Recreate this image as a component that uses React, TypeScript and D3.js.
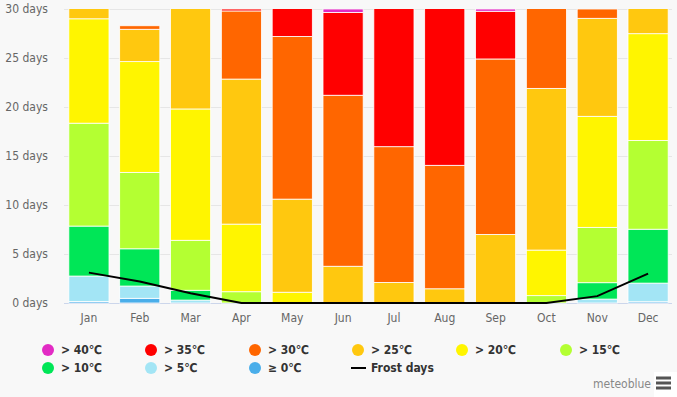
import React from 'react'
import * as d3 from 'd3'

// months and stacked "days per month" per max-temperature class
const months = ['Jan', 'Feb', 'Mar', 'Apr', 'May', 'Jun', 'Jul', 'Aug', 'Sep', 'Oct', 'Nov', 'Dec']
const ge0 = [0.15, 0.48, 0, 0, 0, 0, 0, 0, 0, 0, 0, 0.13]
const gt5 = [2.6, 1.25, 0.3, 0, 0, 0, 0, 0, 0, 0, 0.4, 1.9]
const gt10 = [5.1, 3.8, 1.0, 0, 0, 0, 0, 0, 0, 0, 1.67, 5.5]
const gt15 = [10.5, 7.8, 5.1, 1.15, 0, 0, 0, 0, 0, 0.75, 5.65, 9.05]
const gt20 = [10.65, 11.3, 13.4, 6.9, 1.1, 0, 0, 0, 0, 4.65, 11.33, 10.9]
const gt25 = [2.0, 3.3, 11.2, 14.8, 9.5, 3.75, 2.1, 1.45, 7.0, 16.5, 10.0, 3.6]
const gt30 = [0, 0.36, 0, 6.95, 16.6, 17.45, 13.85, 12.6, 17.9, 9.1, 0.95, 0]
const gt35 = [0, 0, 0, 0.2, 3.8, 8.45, 15.05, 16.95, 4.87, 0, 0, 0]
const gt40 = [0, 0, 0, 0, 0, 0.35, 0, 0, 0.23, 0, 0, 0]
const frostDays = [3.1, 2.2, 1.0, 0, 0, 0, 0, 0, 0, 0, 0.7, 3.0]

const yTicks = [0, 5, 10, 15, 20, 25, 30]

// bottom to top
const series = [
  { key: 'ge0', label: '≥ 0℃', color: '#4aaeea', values: ge0 },
  { key: 'gt5', label: '> 5℃', color: '#a3e5f5', values: gt5 },
  { key: 'gt10', label: '> 10℃', color: '#00e657', values: gt10 },
  { key: 'gt15', label: '> 15℃', color: '#b4ff32', values: gt15 },
  { key: 'gt20', label: '> 20℃', color: '#fff500', values: gt20 },
  { key: 'gt25', label: '> 25℃', color: '#ffc80f', values: gt25 },
  { key: 'gt30', label: '> 30℃', color: '#ff6600', values: gt30 },
  { key: 'gt35', label: '> 35℃', color: '#ff0000', values: gt35 },
  { key: 'gt40', label: '> 40℃', color: '#e22bc4', values: gt40 },
]

const W = 677
const H = 397
const plotLeft = 64
const plotRight = 672
const plotTop = 9
const plotBottom = 303

export default function App() {
  const x = d3.scaleBand<string>()
    .domain(months)
    .range([63.5, 673.5])
    .paddingInner(0.21)
    .paddingOuter(0.105)

  const y = d3.scaleLinear().domain([0, 30]).range([plotBottom, plotTop])

  const rows = months.map((m, i) => {
    const r: Record<string, any> = { month: m }
    series.forEach(s => { r[s.key] = s.values[i] })
    return r
  })
  const stacked = d3.stack().keys(series.map(s => s.key))(rows as any)

  const frostLine = d3.line<number>()
    .x((_, i) => (x(months[i]) ?? 0) + x.bandwidth() / 2)
    .y(d => y(d))

  // legend order (top-left to bottom-right)
  const legendItems = [...series].reverse()
  const legendX = [48, 151, 255, 358, 462, 566]
  const legendY = [350, 368]

  const font = '"DejaVu Sans Condensed", "DejaVu Sans", sans-serif'

  return (
    <svg width={W} height={H} style={{ position: 'absolute', left: 0, top: 0, fontFamily: font }}>
      <rect width={W} height={H} fill="#f8f8f8" />
      <defs>
        <clipPath id="plot-clip">
          <rect x={plotLeft} y={plotTop} width={plotRight - plotLeft} height={plotBottom - plotTop + 1} />
        </clipPath>
      </defs>

      {yTicks.map(t => (
        <g key={t}>
          <line x1={plotLeft} x2={plotRight} y1={y(t) + 0.5} y2={y(t) + 0.5}
            stroke={t === 0 ? '#ccd6eb' : '#e6e6e6'} />
          <text x={48} y={y(t)} dy="0.35em" textAnchor="end" fontSize={12} fill="#666">{t} days</text>
        </g>
      ))}

      <g clipPath="url(#plot-clip)">
        {stacked.map((layer, li) => (
          <g key={layer.key} fill={series[li].color}>
            {layer.map((d, i) => d[1] - d[0] > 0 ? (
              <rect key={i}
                x={x(months[i])}
                y={y(d[1])}
                width={x.bandwidth()}
                height={y(d[0]) - y(d[1])}
                stroke="#fff"
                strokeWidth={0.8} />
            ) : null)}
          </g>
        ))}
      </g>

      <path d={frostLine(frostDays) ?? ''} fill="none" stroke="#000" strokeWidth={2} />

      {months.map(m => (
        <text key={m} x={(x(m) ?? 0) + x.bandwidth() / 2} y={322} textAnchor="middle" fontSize={12} fill="#666">{m}</text>
      ))}

      {legendItems.map((s, i) => {
        const lx = legendX[i % 6]
        const ly = legendY[Math.floor(i / 6)]
        return (
          <g key={s.key}>
            <circle cx={lx} cy={ly} r={6} fill={s.color} />
            <text x={lx + 13} y={ly} dy="0.35em" fontSize={12} fontWeight="bold" fill="#333">{s.label}</text>
          </g>
        )
      })}
      <g>
        <line x1={351} x2={366} y1={368} y2={368} stroke="#000" strokeWidth={2} />
        <text x={371} y={368} dy="0.35em" fontSize={12} fontWeight="bold" fill="#333">Frost days</text>
      </g>

      <text x={651} y={384} dy="0.35em" textAnchor="end" fontSize={12} fill="#888">meteoblue</text>
      <rect x={654} y={372} width={23} height={25} fill="#fff" />
      {[378, 383, 388].map(yy => (
        <rect key={yy} x={656} y={yy - 1.5} width={15} height={3} fill="#555" />
      ))}
    </svg>
  )
}
